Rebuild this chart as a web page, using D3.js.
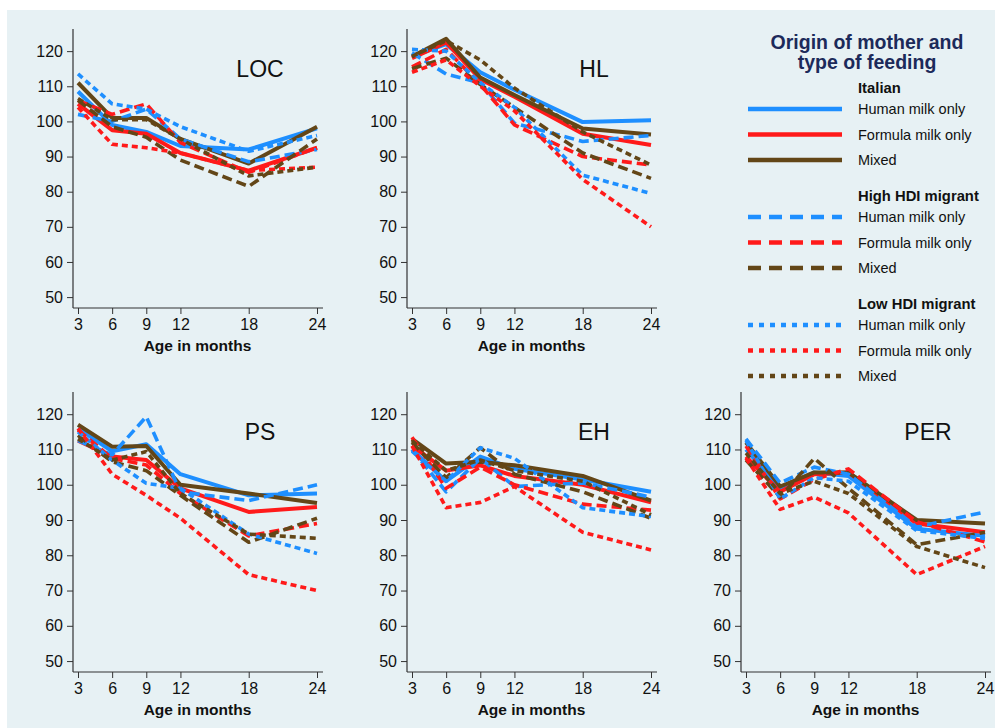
<!DOCTYPE html>
<html lang="en">
<head>
<meta charset="UTF-8" />
<title>Scores by age, origin of mother and type of feeding</title>
<script src="https://d3js.org/d3.v7.min.js"></script>
<style>
  body { margin: 0; background: #fff; font-family: "Liberation Sans", Arial, sans-serif; }
  svg { display: block; }
  .axis line { stroke: #333; }
  .axis text { font-size: 16px; fill: #111; font-family: "Liberation Sans", Arial, sans-serif; }
</style>
</head>
<body>
<script>
const ages = [3, 6, 9, 12, 18, 24];
const yTicks = [50, 60, 70, 80, 90, 100, 110, 120];
const origins = ["Italian", "High HDI migrant", "Low HDI migrant"];
const feedings = ["Human milk only", "Formula milk only", "Mixed"];

// rows: Italian H/F/M, High HDI H/F/M, Low HDI H/F/M
const locValues = [
  [108.5, 99, 97, 93, 92, 98],
  [105, 97.5, 96.5, 91, 86, 92.5],
  [111, 101, 101, 95, 88, 98.5],
  [102, 100, 103.5, 95, 88.5, 92],
  [106, 102, 105, 94, 85.5, 92.5],
  [106, 98.5, 95.5, 89, 81.5, 95],
  [113.5, 105, 103.5, 98.5, 91.5, 96],
  [104, 93.5, 92.5, 91, 86, 87],
  [106.5, 100.5, 100.5, 95, 84.5, 87]
];
const hlValues = [
  [118.5, 122, 114, 109, 99.8, 100.3],
  [118, 122.5, 112, 107, 96.5, 93.3],
  [118.5, 123.5, 112.5, 107.5, 98, 96.3],
  [119.5, 113.5, 111, 99.5, 94.3, 96],
  [115.5, 120.5, 110.5, 99, 90, 87.6],
  [115, 118, 110.5, 104, 91, 83.8],
  [120.5, 120, 111, 104, 84.7, 79.5],
  [114, 117.5, 110, 103, 83.5, 70],
  [118.5, 123, 117.5, 109.5, 97, 87.6]
];
const psValues = [
  [116, 109.5, 111.5, 103, 97, 97.5],
  [112.5, 108, 107, 99, 92.3, 93.7],
  [117, 110.8, 111, 100, 97.5, 94.8],
  [112.5, 108.5, 119.3, 98, 95.5, 100],
  [115.5, 107.5, 105.6, 97.5, 85.5, 89],
  [114, 106.5, 104, 97, 83.7, 90.5],
  [115, 107, 100.4, 99, 86, 80.5],
  [116, 103, 97, 90.5, 74.5, 70],
  [113, 107, 109.4, 97.5, 86, 84.8]
];
const ehValues = [
  [110, 101, 108, 104.5, 101.5, 98],
  [111, 104, 105.5, 102.5, 100, 95],
  [113, 106, 106.5, 105.5, 102.5, 95.5],
  [110, 98, 107.5, 99.5, 100.5, 96.5],
  [113.5, 99, 105, 100, 94.5, 92.8],
  [112, 102, 110.5, 103, 98, 90.5],
  [109.5, 101, 110.5, 107.5, 93.5, 91],
  [111, 93.5, 95, 99.5, 86.5, 81.5],
  [112.5, 104, 107, 104, 101, 91.5]
];
const perValues = [
  [110, 99, 103.5, 102.5, 87.5, 85.5],
  [108, 98, 103, 103.5, 89, 86.5],
  [112, 99.5, 103.5, 103.5, 90, 89],
  [113, 100.5, 105, 103, 88, 92.3],
  [111, 96, 101.5, 104.5, 89.5, 83.8],
  [107, 96.5, 107.5, 99, 83, 86.5],
  [112.5, 96, 102, 101, 87, 84.8],
  [107.5, 93, 96.5, 92, 74.5, 82.5],
  [109, 97.5, 101, 97.5, 82.5, 76.5]
];

const panels = [
  { name: "LOC", col: 0, row: 0, values: locValues },
  { name: "HL", col: 1, row: 0, values: hlValues },
  { name: "PS", col: 0, row: 1, values: psValues },
  { name: "EH", col: 1, row: 1, values: ehValues },
  { name: "PER", col: 2, row: 1, values: perValues }
];

const colors = ["#1e8fff", "#ff1a1a", "#634617"];
const plotDash = [null, "10,5", "6,4"];
const legendDash = [null, "13,8", "5,6"];

const width = 995, height = 728;
const colX = [73, 407, 741];
const rows = [{ top: 29, bottom: 308 }, { top: 392, bottom: 672 }];

const svg = d3.select("body").append("svg")
  .attr("width", width).attr("height", height);

svg.append("rect").attr("x", 7).attr("y", 10)
  .attr("width", width - 7).attr("height", height - 10)
  .attr("fill", "#e7f1f4");

panels.forEach(p => {
  const x0 = colX[p.col];
  const r = rows[p.row];
  const x = d3.scaleLinear().domain([3, 24]).range([x0 + 5, x0 + 244]);
  const y = d3.scaleLinear().domain([46.9, 126.3]).range([r.bottom, r.top]);
  const g = svg.append("g");

  g.append("g").attr("class", "axis")
    .attr("transform", `translate(${x0},0)`)
    .call(d3.axisLeft(y).tickValues(yTicks).tickSize(6).tickPadding(4))
    .call(s => s.select(".domain").remove());

  g.append("g").attr("class", "axis")
    .attr("transform", `translate(0,${r.bottom})`)
    .call(d3.axisBottom(x).tickValues(ages).tickSize(6).tickPadding(5))
    .call(s => s.select(".domain").remove());

  g.append("line").attr("x1", x0).attr("x2", x0).attr("y1", r.top).attr("y2", r.bottom)
    .attr("stroke", "#333").attr("stroke-width", 1.2);
  g.append("line").attr("x1", x0).attr("x2", x0 + 250).attr("y1", r.bottom).attr("y2", r.bottom)
    .attr("stroke", "#333").attr("stroke-width", 1.2);

  g.append("text")
    .attr("x", (x(3) + x(24)) / 2).attr("y", r.bottom + 43)
    .attr("text-anchor", "middle")
    .attr("font-size", "15.5px").attr("font-weight", "bold").attr("fill", "#111")
    .text("Age in months");

  g.append("text")
    .attr("x", x0 + 187).attr("y", y(120) + 26)
    .attr("text-anchor", "middle")
    .attr("font-size", "23px").attr("fill", "#111")
    .text(p.name);

  const line = d3.line().x((d, i) => x(ages[i])).y(d => y(d));

  p.values.forEach((vals, k) => {
    const o = Math.floor(k / 3), f = k % 3;
    g.append("path")
      .datum(vals)
      .attr("d", line)
      .attr("fill", "none")
      .attr("stroke", colors[f])
      .attr("stroke-width", o === 0 ? 4 : 3.6)
      .attr("stroke-dasharray", plotDash[o])
      .attr("stroke-linejoin", "round");
  });
});

// legend
const lg = svg.append("g");
lg.append("text").attr("x", 867).attr("y", 49)
  .attr("text-anchor", "middle").attr("font-size", "19.5px").attr("font-weight", "bold")
  .attr("fill", "#1c2a5a").text("Origin of mother and");
lg.append("text").attr("x", 867).attr("y", 69)
  .attr("text-anchor", "middle").attr("font-size", "19.5px").attr("font-weight", "bold")
  .attr("fill", "#1c2a5a").text("type of feeding");

origins.forEach((o, oi) => {
  const gy = 88 + oi * 108;
  lg.append("text").attr("x", 858).attr("y", gy + 5)
    .attr("font-size", "14.8px").attr("font-weight", "bold").attr("fill", "#111")
    .text(o);
  feedings.forEach((f, fi) => {
    const iy = gy + 21 + fi * 25.5;
    lg.append("line").attr("x1", 748).attr("x2", 842).attr("y1", iy).attr("y2", iy)
      .attr("stroke", colors[fi]).attr("stroke-width", 4.5)
      .attr("stroke-dasharray", legendDash[oi]);
    lg.append("text").attr("x", 858).attr("y", iy + 5)
      .attr("font-size", "14.5px").attr("fill", "#111")
      .text(f);
  });
});
</script>
</body>
</html>
